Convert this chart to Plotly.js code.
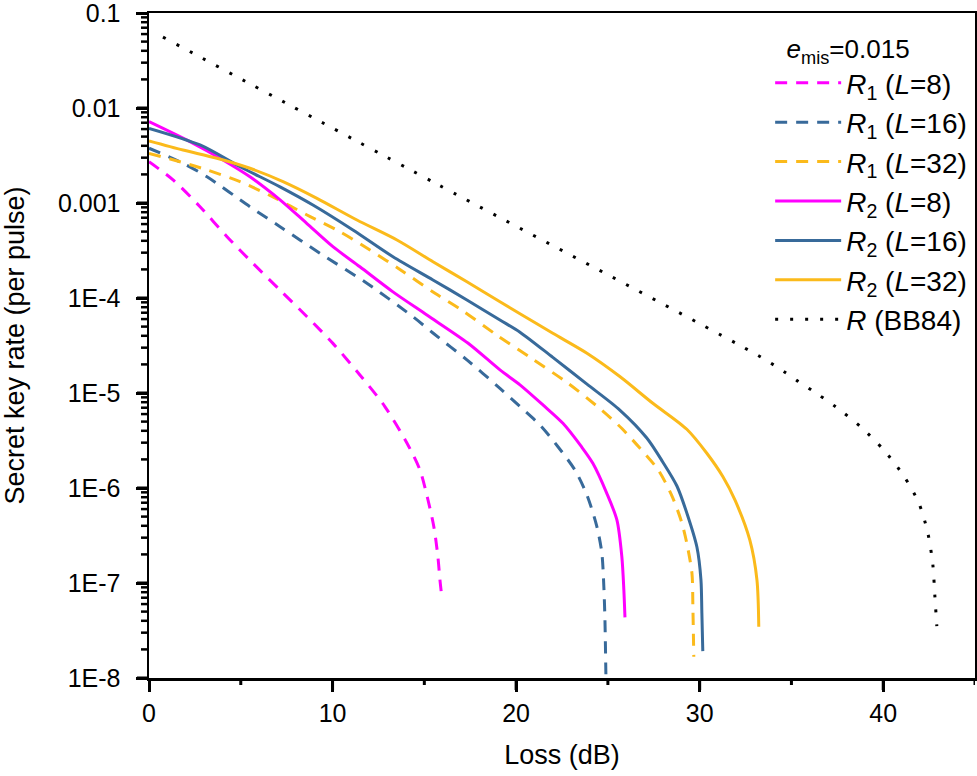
<!DOCTYPE html>
<html>
<head>
<meta charset="utf-8">
<script src="https://cdn.plot.ly/plotly-3.0.1.min.js"></script>
<style>
  html, body { margin: 0; padding: 0; background: #fff; }
  #chart { width: 977px; height: 776px; }
</style>
</head>
<body>
<div id="chart"></div>
<script>
// ---- data (Loss in dB, secret key rate per pulse) ----
const lossR1L8 = [0, 1.31, 2.78, 4.25, 5.66, 7.14, 8.61, 10.02, 11.49, 12.85, 14.05, 14.76, 15.2, 15.52, 15.74, 15.85, 15.96];
const rateR1L8 = [2.72e-3, 1.75e-3, 9.14e-4, 4.42e-4, 2.32e-4, 1.21e-4, 6.35e-5, 3.33e-5, 1.55e-5, 7.2e-6, 2.98e-6, 1.55e-6, 7.48e-7, 3.89e-7, 1.88e-7, 1.08e-7, 6.95e-8];

const lossR1L16 = [0, 1.85, 3.16, 5.50, 7.14, 9.31, 11.87, 14.38, 15.47, 17.32, 19.12, 20.21, 21.30, 22.28, 23.20, 23.86, 24.40, 24.67, 24.78, 24.84, 24.89, 24.92];
const rateR1L16 = [3.77e-3, 2.62e-3, 1.89e-3, 9.14e-4, 5.63e-4, 2.96e-4, 1.43e-4, 6.35e-5, 4.28e-5, 2.23e-5, 1.12e-5, 7.2e-6, 4.60e-6, 2.72e-6, 1.55e-6, 8.43e-7, 3.92e-7, 2.07e-7, 9.14e-8, 4.08e-8, 1.13e-8, 5e-9];

const lossR1L32 = [0, 1.69, 3.16, 4.96, 6.75, 8.61, 10.40, 12.04, 13.67, 15.58, 17.03, 18.94, 20.84, 22.84, 24.66, 25.75, 26.74, 27.74, 28.47, 29.01, 29.30, 29.58, 29.63, 29.68];
const rateR1L32 = [3.33e-3, 2.72e-3, 2.23e-3, 1.68e-3, 1.16e-3, 7.48e-4, 4.99e-4, 3.20e-4, 2.0e-4, 1.12e-4, 7.48e-5, 4.08e-5, 2.32e-5, 1.26e-5, 6.62e-6, 4.25e-6, 2.63e-6, 1.55e-6, 8.43e-7, 4.42e-7, 2.62e-7, 1.26e-7, 5.63e-8, 1.67e-8];

const lossR2L8 = [0, 2.23, 4.03, 5.50, 7.14, 8.59, 10.02, 11.49, 13.29, 15.14, 17.37, 19.12, 20.21, 21.46, 22.55, 23.56, 24.18, 24.93, 25.49, 25.76, 25.87, 25.93];
const rateR2L8 = [7.18e-3, 4.42e-3, 2.84e-3, 1.89e-3, 1.08e-3, 6.11e-4, 3.47e-4, 2.13e-4, 1.16e-4, 6.62e-5, 3.36e-5, 1.75e-5, 1.22e-5, 7.5e-6, 4.80e-6, 2.72e-6, 1.82e-6, 8.9e-7, 4.61e-7, 1.89e-7, 8.44e-8, 4.35e-8];

const lossR2L16 = [0, 2.78, 4.96, 7.14, 8.93, 11.11, 13.29, 15.47, 17.32, 19.12, 20.21, 22.00, 23.86, 25.65, 27.12, 27.99, 28.76, 29.30, 29.85, 30.07, 30.12, 30.17];
const rateR2L16 = [6.11e-3, 4.08e-3, 2.41e-3, 1.48e-3, 9.53e-4, 5.20e-4, 2.72e-4, 1.55e-4, 9.53e-5, 5.87e-5, 4.37e-5, 2.37e-5, 1.24e-5, 6.62e-6, 3.36e-6, 1.88e-6, 1.05e-6, 5.46e-7, 2.39e-7, 1.08e-7, 4.83e-8, 1.92e-8];

const lossR2L32 = [0, 1.85, 3.70, 5.50, 7.30, 9.15, 11.33, 13.51, 15.47, 17.32, 19.12, 20.21, 22.00, 23.86, 25.65, 27.45, 29.30, 30.39, 31.26, 31.92, 32.73, 33.12, 33.22];
const rateR2L32 = [4.50e-3, 3.61e-3, 2.96e-3, 2.32e-3, 1.68e-3, 1.12e-3, 6.62e-4, 4.08e-4, 2.41e-4, 1.48e-4, 9.14e-5, 6.84e-5, 4.25e-5, 2.62e-5, 1.49e-5, 7.79e-6, 4.15e-6, 2.32e-6, 1.32e-6, 7.48e-7, 2.84e-7, 1.08e-7, 3.47e-8];

const lossBB84 = [0.76, 15.69, 33.33, 34.69, 35.40, 36.17, 37.42, 38.78, 40.03, 41.12, 41.94, 42.43, 42.70, 42.81, 42.92];
const rateBB84 = [5.58e-2, 1.58e-3, 2.39e-5, 1.63e-5, 1.31e-5, 1.05e-5, 7.13e-6, 4.39e-6, 2.51e-6, 1.34e-6, 6.95e-7, 3.36e-7, 1.58e-7, 7.48e-8, 3.52e-8];

const seriesNames = [
  '<i>R</i><sub>1</sub> (<i>L</i>=8)',
  '<i>R</i><sub>1</sub> (<i>L</i>=16)',
  '<i>R</i><sub>1</sub> (<i>L</i>=32)',
  '<i>R</i><sub>2</sub> (<i>L</i>=8)',
  '<i>R</i><sub>2</sub> (<i>L</i>=16)',
  '<i>R</i><sub>2</sub> (<i>L</i>=32)',
  '<i>R</i> (BB84)'
];
const legendTitle = '<i>e</i><sub>mis</sub>=0.015';

const xTickVals = [0, 10, 20, 30, 40];
const xMinorTickVals = [5, 15, 25, 35, 45];
const yTickVals = [1e-1, 1e-2, 1e-3, 1e-4, 1e-5, 1e-6, 1e-7, 1e-8];
const yTickText = ['0.1', '0.01', '0.001', '1E-4', '1E-5', '1E-6', '1E-7', '1E-8'];

// minor log ticks (2..9 within each decade)
const yMinorTickVals = [];
for (let n = -8; n <= -2; n++) {
  for (let k = 2; k <= 9; k++) yMinorTickVals.push(k * Math.pow(10, n));
}

// ---- styling ----
const MAGENTA = '#FF00FF';
const BLUE = '#386A9A';
const YELLOW = '#FBBA1B';
const DASH = '12px,9px';
const DOT = '3px,12px';
const LW = 3;
const FONT = 'Liberation Sans, Arial, Helvetica, sans-serif';

function tr(x, y, name, color, dash, grp) {
  return {
    x: x, y: y, name: name, type: 'scatter', mode: 'lines',
    legendgroup: grp,
    line: { color: color, width: LW, dash: dash, shape: 'spline', smoothing: 0.8 },
    hoverinfo: 'skip'
  };
}

const data = [
  tr(lossR1L8, rateR1L8, seriesNames[0], MAGENTA, DASH, 'a'),
  tr(lossR1L16, rateR1L16, seriesNames[1], BLUE, DASH, 'b'),
  tr(lossR1L32, rateR1L32, seriesNames[2], YELLOW, DASH, 'c'),
  tr(lossR2L8, rateR2L8, seriesNames[3], MAGENTA, 'solid', 'd'),
  tr(lossR2L16, rateR2L16, seriesNames[4], BLUE, 'solid', 'e'),
  tr(lossR2L32, rateR2L32, seriesNames[5], YELLOW, 'solid', 'f'),
  tr(lossBB84, rateBB84, seriesNames[6], '#000000', DOT, 'g')
];

// tick marks drawn as axis-referenced shapes (pixel-sized), from the tick arrays
const tickShapes = [];
function xTick(v, len) {
  tickShapes.push({ type: 'line', xref: 'x', yref: 'paper', ysizemode: 'pixel', yanchor: 0,
    x0: v, x1: v, y0: -1, y1: -1 - len, line: { color: '#000', width: 3 }, layer: 'above' });
}
function yTick(v, len, w) {
  tickShapes.push({ type: 'line', xref: 'paper', yref: 'y', xsizemode: 'pixel', xanchor: 0,
    x0: -1, x1: -1 - len, y0: v, y1: v, line: { color: '#000', width: w }, layer: 'above' });
}
xTickVals.forEach(v => xTick(v, 11));
xMinorTickVals.forEach(v => xTick(v, 6));
yTickVals.forEach(v => yTick(v, 11, 3));
yMinorTickVals.forEach(v => yTick(v, 7, 2.5));

const layout = {
  width: 977, height: 776,
  margin: { l: 149, r: 2, t: 13, b: 98, pad: 0 },
  paper_bgcolor: '#ffffff', plot_bgcolor: '#ffffff',
  font: { family: FONT, color: '#000', size: 25 },
  showlegend: true,
  legend: {
    x: 0.752, y: 0.983, xanchor: 'left', yanchor: 'top',
    bgcolor: 'rgba(0,0,0,0)', borderwidth: 0,
    itemwidth: 66,
    font: { family: FONT, size: 28, color: '#000' },
    title: { text: '\u00A0\u00A0' + legendTitle, font: { family: FONT, size: 26, color: '#000' } },
    traceorder: 'normal', tracegroupgap: 10
  },
  shapes: tickShapes,
  xaxis: {
    range: [0, 45], type: 'linear',
    tickmode: 'array', tickvals: xTickVals,
    ticks: 'outside', ticklen: 11, tickwidth: 3, tickcolor: '#000',
    showline: true, linewidth: 2.5, linecolor: '#000', mirror: true,
    showgrid: false, zeroline: false,
    tickfont: { family: FONT, size: 25, color: '#000' },
    title: { text: 'Loss (dB)', font: { family: FONT, size: 27, color: '#000' }, standoff: 20 }
  },
  yaxis: {
    type: 'log', range: [-8, -1],
    tickmode: 'array', tickvals: yTickVals, ticktext: yTickText,
    ticks: 'outside', ticklen: 11, tickwidth: 3, tickcolor: '#000',
    ticklabeloverflow: 'allow', ticklabelstandoff: 10,
    showline: true, linewidth: 2.5, linecolor: '#000', mirror: true,
    showgrid: false, zeroline: false,
    tickfont: { family: FONT, size: 25, color: '#000' },
    title: { text: 'Secret key rate (per pulse)', font: { family: FONT, size: 27, color: '#000' }, standoff: 30 }
  }
};

Plotly.newPlot('chart', data, layout, { staticPlot: true, displayModeBar: false });
</script>
</body>
</html>
